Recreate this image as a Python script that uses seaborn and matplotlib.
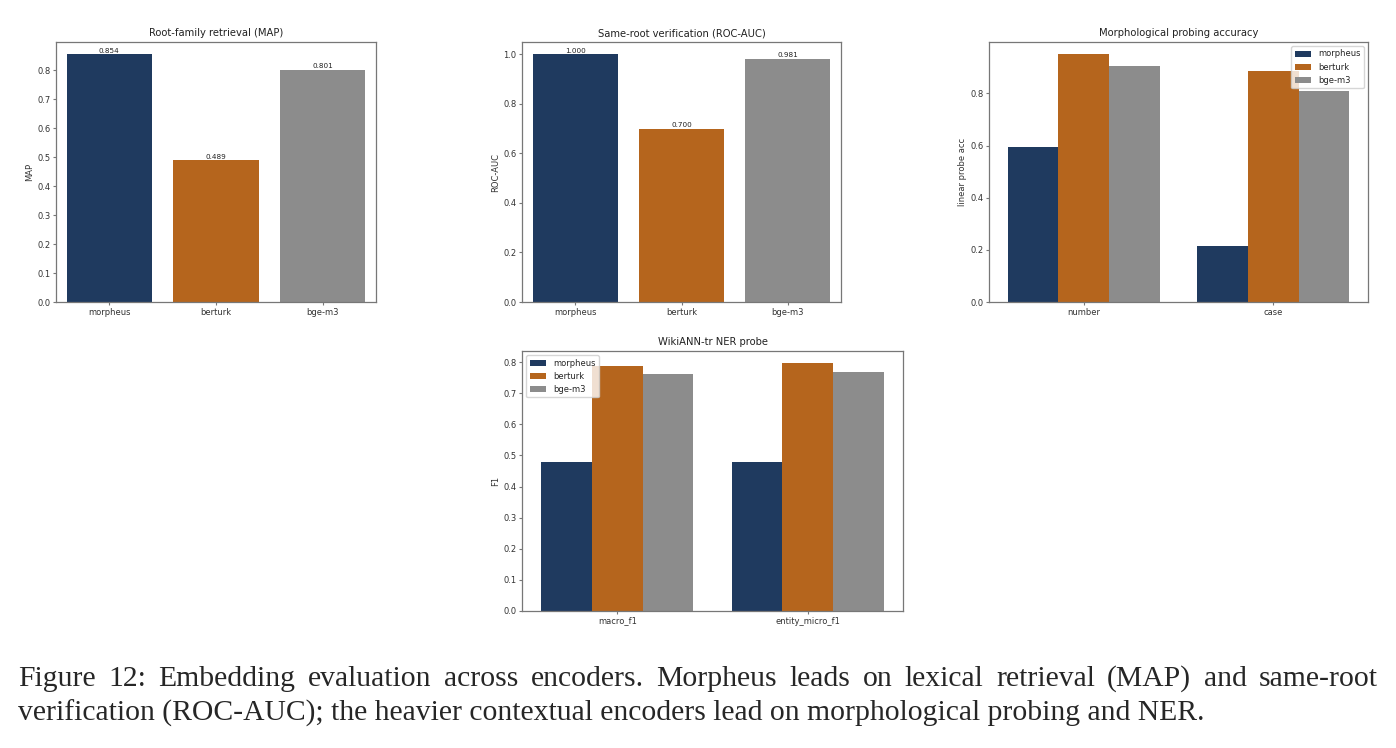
import pandas as pd
import matplotlib.pyplot as plt
import seaborn as sns

models = ["morpheus", "berturk", "bge-m3"]
colors = ["#1f3a5f", "#b5651d", "#8c8c8c"]

map_vals = [0.854, 0.489, 0.801]
auc_vals = [1.000, 0.700, 0.981]

probe_tasks = ["number", "case"]
probe_morpheus = [0.593, 0.213]
probe_berturk = [0.950, 0.888]
probe_bge = [0.907, 0.811]

ner_metrics = ["macro_f1", "entity_micro_f1"]
ner_morpheus = [0.478, 0.480]
ner_berturk = [0.789, 0.796]
ner_bge = [0.762, 0.767]

caption = [
    "Figure 12:  Embedding evaluation across encoders.  Morpheus leads on lexical retrieval (MAP) and same-root",
    "verification (ROC-AUC); the heavier contextual encoders lead on morphological probing and NER.",
]

sns.set_style("ticks")
plt.rcParams.update({
    "font.family": ["DejaVu Sans"],
    "font.size": 6.0,
    "axes.edgecolor": "#777777",
    "axes.linewidth": 0.9,
    "xtick.color": "#777777",
    "ytick.color": "#777777",
    "xtick.labelcolor": "#333333",
    "ytick.labelcolor": "#333333",
    "xtick.major.size": 2,
    "ytick.major.size": 2,
    "xtick.major.pad": 2,
    "ytick.major.pad": 2,
    "xtick.labelsize": 6.0,
    "ytick.labelsize": 6.0,
    "axes.labelsize": 6.0,
    "axes.labelcolor": "#333333",
    "axes.titlesize": 7.2,
    "axes.titlecolor": "#222222",
    "axes.titlepad": 4,
    "axes.labelpad": 2.5,
    "legend.fontsize": 6.0,
})

W, H = 1396, 748
fig = plt.figure(figsize=(W / 100, H / 100), dpi=100)


def box(x0, y0, x1, y1):
    return [x0 / W, 1 - y1 / H, (x1 - x0) / W, (y1 - y0) / H]


ax1 = fig.add_axes(box(56, 42, 376, 302))
ax2 = fig.add_axes(box(522, 42, 841, 302))
ax3 = fig.add_axes(box(989, 42, 1368, 302))
ax4 = fig.add_axes(box(522, 351, 903, 611))

# single-value panels
for ax, vals, title, ylab in [
    (ax1, map_vals, "Root-family retrieval (MAP)", "MAP"),
    (ax2, auc_vals, "Same-root verification (ROC-AUC)", "ROC-AUC"),
]:
    sns.barplot(x=models, y=vals, hue=models, palette=colors, saturation=1,
                legend=False, linewidth=0, ax=ax)
    for c in ax.containers:
        ax.bar_label(c, fmt="%.3f", fontsize=5.2, padding=0.5, color="#222222")
    ax.set_title(title)
    ax.set_ylabel(ylab)

# grouped panels
probe_df = pd.DataFrame({
    "task": probe_tasks * 3,
    "model": [m for m in models for _ in probe_tasks],
    "acc": probe_morpheus + probe_berturk + probe_bge,
})
sns.barplot(data=probe_df, x="task", y="acc", hue="model", palette=colors,
            saturation=1, linewidth=0, ax=ax3)
h, l = ax3.get_legend_handles_labels()
ax3.legend(h, l, loc="upper right")
ax3.set_title("Morphological probing accuracy")
ax3.set_ylabel("linear probe acc")
ax3.set_xlabel("")
ax3.set_yticks([0.0, 0.2, 0.4, 0.6, 0.8])

ner_df = pd.DataFrame({
    "metric": ner_metrics * 3,
    "model": [m for m in models for _ in ner_metrics],
    "f1": ner_morpheus + ner_berturk + ner_bge,
})
sns.barplot(data=ner_df, x="metric", y="f1", hue="model", palette=colors,
            saturation=1, linewidth=0, ax=ax4)
h, l = ax4.get_legend_handles_labels()
ax4.legend(h, l, loc="upper left")
ax4.set_title("WikiANN-tr NER probe")
ax4.set_ylabel("F1")
ax4.set_xlabel("")

for ax in (ax1, ax2, ax3, ax4):
    for s in ax.spines.values():
        s.set_visible(True)

# caption: first line justified to the full width, second line left-aligned
renderer = fig.canvas.get_renderer()
cap_font = dict(family="Liberation Serif", fontsize=21.3, va="center", ha="left")
x_left, x_right = 18, 1378
words = caption[0].split()
objs = [fig.text(0, 1 - 679 / H, w, **cap_font) for w in words]
widths = [o.get_window_extent(renderer).width for o in objs]
gap = (x_right - x_left - sum(widths)) / (len(words) - 1)
x = x_left
for o, w in zip(objs, widths):
    o.set_x(x / W)
    x += w + gap
fig.text(x_left / W, 1 - 713 / H, caption[1], **cap_font)

plt.savefig("out.png", dpi=100)
plt.close()
